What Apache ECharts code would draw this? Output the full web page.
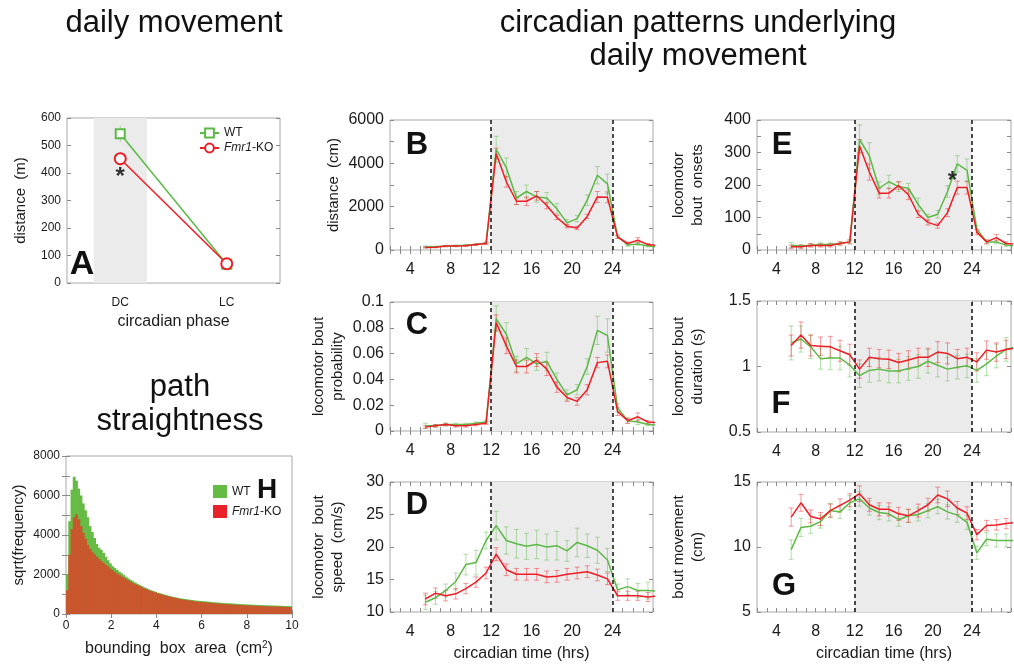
<!DOCTYPE html>
<html><head><meta charset="utf-8">
<script src="https://cdn.jsdelivr.net/npm/echarts@6/dist/echarts.min.js"></script>
<style>html,body{margin:0;padding:0;background:#fff}#c{width:1014px;height:665px}</style>
</head><body><div id="c"></div>
<script>
const FONT = "'Liberation Sans', Arial, sans-serif";
const GREEN = '#5cb946', RED = '#ee1c25';
const GREEN_E = 'rgba(92,185,70,0.45)', RED_E = 'rgba(238,28,37,0.45)';
const TXT = '#1a1a1a';

// ---------- Panel A: daily movement ----------
const phasePos = [1, 2];
const phaseLabels = ['DC', 'LC'];
const aWT = [543, 68], aWTerr = [30, 5];
const aKO = [452, 70], aKOerr = [24, 5];

// ---------- Panels B-G: circadian time ----------
const hours = [5.5,6.5,7.5,8.5,9.5,10.5,11.5,12.5,13.5,14.5,15.5,16.5,17.5,18.5,19.5,20.5,21.5,22.5,23.5,24.5,25.5,26.5,27.5,28.5];
const timeTicks = [4, 8, 12, 16, 20, 24];

const bWT    = [150,150,180,200,220,250,320,4650,3800,2400,2700,2450,2400,1900,1250,1450,2300,3450,3050,620,230,280,180,130];
const bWTerr = [40,30,30,30,30,40,50,600,450,300,300,250,250,250,150,150,250,400,450,80,60,60,40,40];
const bKO    = [120,130,180,180,200,250,300,4450,3150,2250,2250,2500,2050,1500,1100,1020,1550,2450,2430,600,300,450,250,200];
const bKOerr = [30,30,30,30,30,30,40,250,250,150,200,200,150,100,80,80,100,250,250,60,60,120,50,40];

const cWT    = [0.004,0.004,0.005,0.005,0.005,0.006,0.007,0.087,0.075,0.052,0.057,0.052,0.054,0.040,0.028,0.032,0.050,0.078,0.074,0.018,0.008,0.007,0.005,0.0045];
const cWTerr = [0.002,0.001,0.001,0.001,0.001,0.001,0.001,0.010,0.009,0.006,0.007,0.005,0.007,0.005,0.004,0.004,0.006,0.011,0.013,0.003,0.002,0.002,0.001,0.001];
const cKO    = [0.003,0.004,0.005,0.004,0.004,0.005,0.006,0.084,0.066,0.050,0.050,0.055,0.048,0.034,0.026,0.023,0.032,0.053,0.054,0.015,0.008,0.011,0.007,0.0065];
const cKOerr = [0.001,0.001,0.001,0.001,0.001,0.001,0.001,0.006,0.006,0.005,0.005,0.005,0.005,0.004,0.003,0.003,0.004,0.004,0.005,0.003,0.002,0.003,0.001,0.001];

const dWT    = [11.5,12.2,13.3,14.7,17.3,17.6,21.0,23.3,21.0,20.5,20.1,20.4,20.0,20.2,19.4,20.7,20.2,19.5,18.0,13.4,13.9,13.3,13.3,13.2];
const dWTerr = [1.1,1.0,1.0,1.3,1.6,1.9,1.3,2.2,2.1,2.2,2.0,2.2,2.0,2.2,1.6,2.2,1.8,2.0,1.8,0.9,1.2,1.1,1.3,1.2];
const dKO    = [12.0,12.9,12.5,12.8,13.6,14.6,16.0,18.9,16.5,15.8,15.8,15.8,15.4,15.5,15.8,16.0,16.2,15.7,15.1,12.5,12.5,12.5,12.3,12.5];
const dKOerr = [0.9,0.8,0.8,0.8,0.8,0.8,0.9,1.0,0.9,0.9,0.9,0.9,0.9,0.9,0.9,0.9,0.9,0.9,0.9,0.7,0.7,0.7,0.7,0.7];

const eWT    = [15,12,15,17,17,20,25,340,290,190,210,195,190,140,100,110,180,265,245,65,25,25,15,12];
const eWTerr = [8,5,5,5,5,5,6,45,40,20,20,15,15,20,10,12,18,25,35,10,6,6,5,5];
const eKO    = [10,10,14,14,14,20,25,320,240,175,175,198,170,110,85,75,115,192,192,55,25,38,20,18];
const eKOerr = [5,5,5,5,5,5,6,20,25,15,15,12,15,10,8,8,12,20,20,8,6,10,5,5];

const fWT    = [1.18,1.21,1.15,1.06,1.065,1.065,1.01,0.93,0.97,0.98,0.965,0.965,0.985,1.0,1.04,1.01,0.98,0.995,1.005,0.97,1.02,1.08,1.13,1.15];
const fWTerr = [0.13,0.10,0.09,0.08,0.09,0.09,0.09,0.09,0.09,0.09,0.09,0.09,0.09,0.09,0.09,0.09,0.09,0.09,0.09,0.09,0.09,0.09,0.09,0.09];
const fKO    = [1.16,1.24,1.16,1.155,1.15,1.12,1.09,0.98,1.07,1.06,1.055,1.03,1.05,1.07,1.07,1.11,1.10,1.06,1.07,1.035,1.125,1.11,1.13,1.14];
const fKOerr = [0.08,0.10,0.08,0.07,0.08,0.08,0.08,0.07,0.07,0.07,0.07,0.07,0.07,0.07,0.07,0.08,0.08,0.07,0.07,0.07,0.07,0.07,0.07,0.07];

const gWT    = [9.8,11.5,11.6,11.95,12.8,12.7,13.4,13.7,13.0,12.65,12.55,12.1,12.4,12.5,12.8,13.1,12.7,12.45,11.9,9.55,10.6,10.5,10.5,10.5];
const gWTerr = [0.75,0.7,0.55,0.5,0.55,0.5,0.55,0.55,0.55,0.55,0.55,0.5,0.5,0.5,0.55,0.55,0.55,0.55,0.55,0.5,0.5,0.5,0.5,0.5];
const gKO    = [12.3,13.4,12.35,12.15,12.8,13.2,13.6,14.1,13.25,12.9,12.9,12.55,12.4,12.8,13.25,14.0,13.7,13.0,12.6,10.95,11.65,11.7,11.8,11.9];
const gKOerr = [0.7,0.65,0.5,0.5,0.5,0.5,0.5,0.6,0.5,0.5,0.5,0.5,0.5,0.5,0.5,0.6,0.6,0.5,0.5,0.4,0.4,0.4,0.4,0.4];

// significance markers
const aStar = [1, 385];
const eStar = [22.0, 212];

// ---------- Panel H: histogram of bounding box area (bin width 0.1 cm^2) ----------
const hBinWidth = 0.1;
const hWT = [2000,4700,6300,6950,6750,6350,6000,5600,5250,4900,
  4450,4150,3850,3550,3350,3250,3100,2900,2720,2560,
  2420,2330,2230,2140,2060,1970,1880,1800,1730,1660,
  1590,1530,1470,1410,1350,1300,1250,1200,1160,1120,
  1080,1050,1010,980,950,920,890,860,840,815,
  790,775,760,740,725,710,695,680,670,660,
  650,640,630,615,605,595,585,575,568,560,
  552,545,538,530,522,515,508,500,493,487,
  480,475,470,465,460,455,450,445,440,436,
  432,428,424,420,416,412,408,404,400,396];
const hKO = [1200,3000,4300,4900,5050,4800,4450,4100,3800,3500,
  3300,3150,3020,2900,2780,2680,2580,2480,2400,2300,
  2220,2130,2050,1970,1900,1830,1760,1700,1630,1570,
  1510,1460,1400,1350,1300,1255,1210,1165,1125,1085,
  1045,1010,975,945,915,885,855,830,805,780,
  755,735,715,695,680,665,650,635,620,608,
  596,585,574,563,553,543,534,525,516,508,
  500,492,485,478,471,464,458,452,446,440,
  434,428,423,418,412,407,402,397,393,388,
  384,380,376,372,368,364,360,356,352,348];

// ---------- build ----------
const grids = [], xAxes = [], yAxes = [], series = [];
const tickStyle = {show: true, inside: true, length: 4, lineStyle: {color: '#8a8a8a'}};

function addPanel(g, xo, yo) {
  const gi = grids.length;
  grids.push(Object.assign({show: true, borderColor: '#a8a8a8', borderWidth: 1, backgroundColor: '#fff'}, g));
  const xi = xAxes.length, yi = yAxes.length;
  const xBase = {type: 'value', gridIndex: gi, min: xo.min, max: xo.max, interval: xo.interval,
    splitLine: {show: false}, axisLine: {show: false}};
  const yBase = {type: 'value', gridIndex: gi, min: yo.min, max: yo.max, interval: yo.interval,
    splitLine: {show: false}, axisLine: {show: false}};
  xAxes.push(Object.assign({}, xBase, {position: 'bottom',
    axisTick: xo.noTick ? {show: false} : tickStyle,
    axisLabel: {fontFamily: FONT, fontSize: xo.fs, color: TXT, margin: xo.margin || 7, formatter: xo.fmt, showMinLabel: true, showMaxLabel: true},
    name: xo.name || '', nameLocation: 'middle', nameGap: xo.nameGap || 30,
    nameTextStyle: Object.assign({fontFamily: FONT, fontSize: xo.nfs || 16, color: TXT}, xo.nts || {})}));
  xAxes.push(Object.assign({}, xBase, {position: 'top', axisTick: xo.noTick ? {show: false} : tickStyle, axisLabel: {show: false}}));
  yAxes.push(Object.assign({}, yBase, {position: 'left', axisTick: tickStyle,
    axisLabel: {fontFamily: FONT, fontSize: yo.fs, color: TXT, margin: yo.margin || 6, formatter: yo.fmt, showMinLabel: true, showMaxLabel: true},
    name: yo.name || '', nameLocation: 'middle', nameGap: yo.nameGap || 40,
    nameTextStyle: {fontFamily: FONT, fontSize: yo.nfs || 15, color: TXT, lineHeight: 19, align: 'center'}}));
  yAxes.push(Object.assign({}, yBase, {position: 'right', axisTick: tickStyle, axisLabel: {show: false}}));
  return {x: xi, y: yi};
}

function errSeries(ax, xs, ys, es, color, cap) {
  return {type: 'custom', xAxisIndex: ax.x, yAxisIndex: ax.y, z: 2, silent: true, clip: true,
    data: xs.map((x, i) => [x, ys[i], es[i]]),
    encode: {x: 0, y: 1},
    renderItem: function (params, api) {
      const x = api.value(0), y = api.value(1), e = api.value(2);
      const p1 = api.coord([x, y + e]), p2 = api.coord([x, y - e]);
      const st = {stroke: color, lineWidth: 1};
      return {type: 'group', children: [
        {type: 'line', shape: {x1: p1[0], y1: p1[1], x2: p2[0], y2: p2[1]}, style: st},
        {type: 'line', shape: {x1: p1[0] - cap, y1: p1[1], x2: p1[0] + cap, y2: p1[1]}, style: st},
        {type: 'line', shape: {x1: p2[0] - cap, y1: p2[1], x2: p2[0] + cap, y2: p2[1]}, style: st}
      ]};
    }};
}
function lineSeries(ax, name, xs, ys, color, extra) {
  return Object.assign({type: 'line', name: name, xAxisIndex: ax.x, yAxisIndex: ax.y, z: 3, silent: true,
    data: xs.map((x, i) => [x, ys[i]]), showSymbol: false, symbol: 'none',
    lineStyle: {color: color, width: 1.5}, itemStyle: {color: color}, animation: false}, extra || {});
}
function shadeSeries(ax, xs, ys, from, to, lines) {
  const s = {type: 'line', xAxisIndex: ax.x, yAxisIndex: ax.y, z: 1, silent: true, symbol: 'none',
    data: xs.map((x, i) => [x, ys[i]]), lineStyle: {opacity: 0},
    markArea: {silent: true, itemStyle: {color: '#ebebeb'}, data: [[{xAxis: from}, {xAxis: to}]]}};
  if (lines) s.markLine = {silent: true, symbol: ['none', 'none'], label: {show: false},
    lineStyle: {color: '#111', type: [4, 3], width: 1.5}, data: [{xAxis: from}, {xAxis: to}]};
  return s;
}

// Panel A (first, so legend picks up its icons)
const axA = addPanel({left: 67, top: 118, width: 213, height: 165},
  {min: 0.5, max: 2.5, interval: 0.5, fs: 12, noTick: true, margin: 14,
   fmt: v => { const i = phasePos.indexOf(v); return i >= 0 ? phaseLabels[i] : ''; },
   name: 'circadian phase', nameGap: 31, nfs: 16},
  {min: 0, max: 600, interval: 100, fs: 12, margin: 6, name: 'distance  (m)', nameGap: 37, nfs: 15});
series.push(shadeSeries(axA, phasePos, aWT, 0.75, 1.25, false));
series.push(errSeries(axA, phasePos, aWT, aWTerr, GREEN_E, 0));
series.push(errSeries(axA, phasePos, aKO, aKOerr, RED_E, 0));
series.push(lineSeries(axA, 'A-WT', phasePos, aWT, GREEN, {showSymbol: true, symbol: 'emptyRect', symbolSize: 9, itemStyle: {color: GREEN, borderWidth: 1.5}}));
series.push(lineSeries(axA, 'A-KO', phasePos, aKO, RED, {showSymbol: true, symbol: 'emptyCircle', symbolSize: 11, itemStyle: {color: RED, borderWidth: 1.5}}));
series.push({type: 'scatter', xAxisIndex: axA.x, yAxisIndex: axA.y, z: 5, silent: true, symbolSize: 0,
  data: [aStar], label: {show: true, formatter: '*', position: 'inside', fontSize: 24, fontWeight: 'bold', color: '#000', fontFamily: FONT}});

// Panel H
const hBins = hWT.map((_, i) => i * hBinWidth);
const axH = addPanel({left: 66, top: 456, width: 226, height: 158},
  {min: 0, max: 10, interval: 2, fs: 12, margin: 6,
   name: 'bounding  box  area  (cm{sup|2})', nameGap: 26, nfs: 16,
   nts: {rich: {sup: {fontSize: 10, verticalAlign: 'top', padding: [0, 0, 8, 0], fontFamily: FONT, color: TXT}}}},
  {min: 0, max: 8000, interval: 1000, fs: 12, margin: 6, fmt: v => (v % 2000 === 0 ? v : ''),
   name: 'sqrt(frequency)', nameGap: 38, nfs: 15});
function histSeries(ax, name, vals, legendColor, fill, z) {
  return {type: 'custom', name: name, xAxisIndex: ax.x, yAxisIndex: ax.y, z: z, silent: true, clip: true,
    itemStyle: {color: legendColor},
    data: vals.map((v, i) => [hBins[i], v]), encode: {x: 0, y: 1},
    renderItem: function (params, api) {
      const x0 = api.value(0), v = api.value(1);
      const p0 = api.coord([x0, 0]), p1 = api.coord([x0 + hBinWidth, v]);
      return {type: 'rect', shape: {x: p0[0], y: p1[1], width: p1[0] - p0[0] + 0.6, height: p0[1] - p1[1]},
        style: {fill: fill}};
    }};
}
series.push(histSeries(axH, 'H-WT', hWT, '#66bb44', '#66bb44', 2));
series.push(histSeries(axH, 'H-KO', hKO, '#e8242a', '#c9572d', 3));

// Panels B-G
const tfmt = v => (timeTicks.indexOf(v) >= 0 ? v : '');
const panels = [
  {g: {left: 390, top: 120, width: 263, height: 130}, y: {min: 0, max: 6000, interval: 1000, fmt: v => (v % 2000 === 0 ? v : ''), name: 'distance  (cm)', nameGap: 47}, wt: bWT, wte: bWTerr, ko: bKO, koe: bKOerr},
  {g: {left: 390, top: 302, width: 263, height: 129}, y: {min: 0, max: 0.1, interval: 0.02, fmt: v => String(+v.toFixed(3)), name: 'locomotor bout\nprobability', nameGap: 43}, wt: cWT, wte: cWTerr, ko: cKO, koe: cKOerr},
  {g: {left: 390, top: 482, width: 263, height: 130}, y: {min: 10, max: 30, interval: 5, name: 'locomotor  bout\nspeed  (cm/s)', nameGap: 43}, wt: dWT, wte: dWTerr, ko: dKO, koe: dKOerr, xname: true},
  {g: {left: 757, top: 120, width: 263, height: 130}, y: {min: 0, max: 400, interval: 50, fmt: v => (v % 100 === 0 ? v : ''), name: 'locomotor\nbout  onsets', nameGap: 50}, wt: eWT, wte: eWTerr, ko: eKO, koe: eKOerr, star: eStar},
  {g: {left: 757, top: 301, width: 263, height: 131}, y: {min: 0.5, max: 1.5, interval: 0.5, fmt: v => String(+v.toFixed(2)), name: 'locomotor bout\nduration (s)', nameGap: 50}, wt: fWT, wte: fWTerr, ko: fKO, koe: fKOerr},
  {g: {left: 757, top: 482, width: 263, height: 130}, y: {min: 5, max: 15, interval: 5, name: 'bout movement\n(cm)', nameGap: 50}, wt: gWT, wte: gWTerr, ko: gKO, koe: gKOerr, xname: true}
];
panels.forEach(p => {
  const ax = addPanel(p.g,
    {min: 2, max: 28, interval: 1, fs: 16, margin: 12, fmt: tfmt,
     name: p.xname ? 'circadian time (hrs)' : '', nameGap: 34, nfs: 16},
    Object.assign({fs: 16, margin: 6, nfs: 15}, p.y));
  series.push(shadeSeries(ax, hours, p.wt, 12, 24, true));
  series.push(errSeries(ax, hours, p.wt, p.wte, GREEN_E, 2.5));
  series.push(errSeries(ax, hours, p.ko, p.koe, RED_E, 2.5));
  series.push(lineSeries(ax, 'WT', hours, p.wt, GREEN));
  series.push(lineSeries(ax, 'Fmr1-KO', hours, p.ko, RED));
  if (p.star) series.push({type: 'scatter', xAxisIndex: ax.x, yAxisIndex: ax.y, z: 5, silent: true, symbolSize: 0,
    data: [p.star], label: {show: true, formatter: '*', position: 'inside', fontSize: 24, fontWeight: 'bold', color: '#000', fontFamily: FONT}});
});

const legFmt = n => (n === 'A-WT' || n === 'H-WT') ? 'WT' : '{i|Fmr1}-KO';
const legRich = {i: {fontStyle: 'italic', fontSize: 12, fontFamily: FONT, color: TXT}};
const legends = [
  {data: ['A-WT', 'A-KO'], orient: 'vertical', left: 199, top: 127, padding: 0, itemWidth: 19, itemHeight: 11, itemGap: 3,
   formatter: legFmt, selectedMode: false, textStyle: {fontFamily: FONT, fontSize: 12, color: TXT, rich: legRich}},
  {data: ['H-WT', 'H-KO'], orient: 'vertical', left: 213, top: 485, padding: 0, itemWidth: 14, itemHeight: 13, itemGap: 7, icon: 'rect',
   formatter: legFmt, selectedMode: false, textStyle: {fontFamily: FONT, fontSize: 12, color: TXT, rich: legRich}}
];

function txt(x, y, text, size, bold) {
  return {type: 'text', x: x, y: y, silent: true, z: 100,
    style: {text: text, fontSize: size, fontFamily: FONT, fontWeight: bold ? 'bold' : 'normal', fill: '#111', align: 'center', verticalAlign: 'middle'}};
}
const graphics = [
  txt(174, 23, 'daily movement', 31),
  txt(698, 23, 'circadian patterns underlying', 31),
  txt(698, 56, 'daily movement', 31),
  txt(180, 387, 'path', 31),
  txt(180, 421, 'straightness', 31),
  txt(82, 265, 'A', 34, true),
  txt(417, 145, 'B', 31, true),
  txt(417, 325, 'C', 31, true),
  txt(417, 505, 'D', 31, true),
  txt(782, 145, 'E', 31, true),
  txt(781, 404, 'F', 31, true),
  txt(784, 586, 'G', 31, true),
  txt(267, 490, 'H', 28, true)
];

const chart = echarts.init(document.getElementById('c'), null, {renderer: 'canvas'});
chart.setOption({
  animation: false,
  backgroundColor: '#fff',
  textStyle: {fontFamily: FONT},
  grid: grids, xAxis: xAxes, yAxis: yAxes, series: series,
  legend: legends, graphic: graphics
});
</script></body></html>
